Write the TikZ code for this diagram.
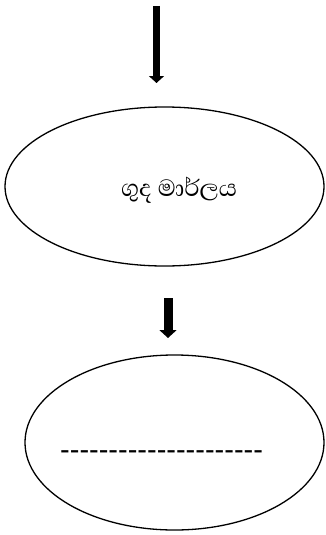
\documentclass[tikz,border=0pt]{standalone}
\usepackage{fontspec}
\usetikzlibrary{shapes.geometric,arrows.meta}
\newfontfamily\sinhalafont[Script=Sinhala]{Abhaya Libre}
\newfontfamily\arialfont{Liberation Sans}
\tikzset{
  oval/.style={ellipse, draw=black, line width=1.3pt, inner sep=0pt},
}
\begin{document}
\begin{tikzpicture}[x=1pt, y=-1pt]
  \useasboundingbox (0,0) rectangle (325,535);
  % ovals
  \node[oval, minimum width=319pt, minimum height=159pt] (o1) at (164.5,186.5) {};
  \node[oval, minimum width=299pt, minimum height=175pt] (o2) at (174.5,442.5) {};
  % labels
  \node[inner sep=0pt, font=\sinhalafont\fontsize{30}{34}\selectfont] (t1) at (179,190) {ගුද මාර්ලය};
  \node[inner sep=0pt, font=\arialfont\fontsize{29}{32}\selectfont, anchor=west] (t2) at (60,455) {---------------------};
  % arrows
  \coordinate (a1s) at (156.5,6);
  \coordinate (a1e) at (156.5,83);
  \coordinate (a2s) at (168,298);
  \coordinate (a2e) at (168,338);
  \draw[line width=7pt, -{Triangle[width=15pt,length=7pt]}] (a1s) -- (a1e);
  \draw[line width=9pt, -{Triangle[width=17pt,length=8pt]}] (a2s) -- (a2e);
\end{tikzpicture}
\end{document}
